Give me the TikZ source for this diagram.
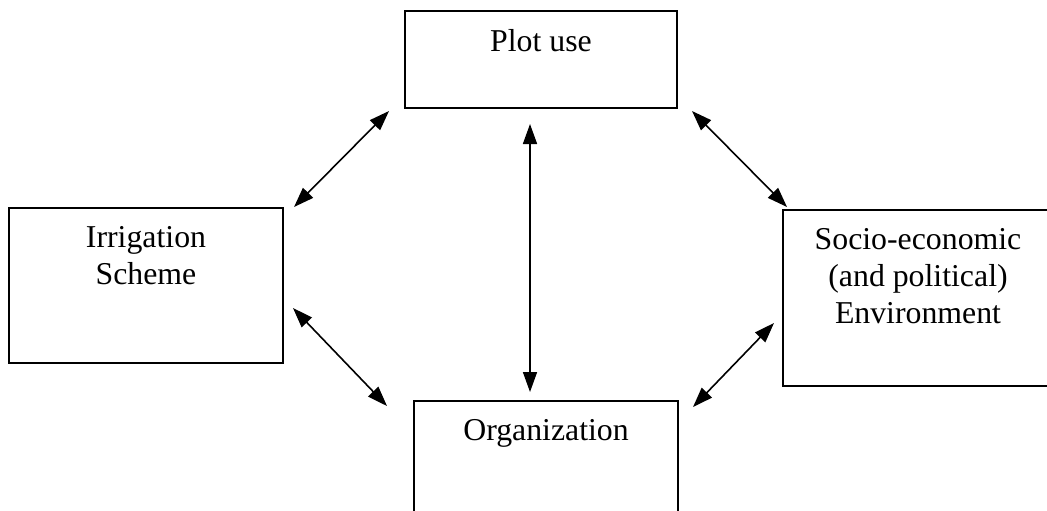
\documentclass[tikz,border=0pt]{standalone}
\usepackage{fontspec}
\setmainfont{Liberation Serif}
\usetikzlibrary{arrows.meta}
\tikzset{
  box/.style={draw,line width=1pt,minimum width=#1,inner sep=0pt},
  boxtext/.style={anchor=north,inner sep=0pt,yshift=-9.7pt,align=center,
    font=\fontsize{15.9}{18.4}\selectfont},
  link/.style={{Triangle[length=10pt,width=7pt]}-{Triangle[length=10pt,width=7pt]},line width=0.8pt}
}

\begin{document}
\begin{tikzpicture}[x=0.5pt,y=-0.5pt]

    % -- Page size (pixels of the original figure) --
    \useasboundingbox (0,0) rectangle (1047,510);
    \clip (0,0) rectangle (1047,510);

    % -- The four boxes, text hanging from the top edge --
    \node[box=136pt,minimum height=48.5pt,label={[boxtext]north:Plot use}] (plot) at (541,59.5) {};
    \node[box=137pt,minimum height=77.5pt,label={[boxtext]north:Irrigation\\Scheme}] (irr) at (146,285.5) {};
    \node[box=135pt,minimum height=88pt,label={[boxtext]north:Socio-economic\\(and political)\\Environment}] (socio) at (918,298) {};
    \node[box=132pt,minimum height=57pt,label={[boxtext]north:Organization}] (org) at (546,458) {};

    % -- Double headed arrows between the boxes --
    \draw[link] ([xshift=5pt]irr.north east) -- ([xshift=-7.5pt,yshift=-1pt]plot.south west);
    \draw[link] ([xshift=4.5pt,yshift=-11.25pt]irr.east) -- ([xshift=-13pt,yshift=-3pt]org.north west);
    \draw[link] ([xshift=7pt,yshift=-1pt]plot.south east) -- ([xshift=2.5pt,yshift=1pt]socio.north west);
    \draw[link] ([xshift=7pt,yshift=-3.5pt]org.north east) -- ([xshift=-4pt,yshift=-12.5pt]socio.west);
    \draw[link] ([xshift=-5.5pt,yshift=-7.5pt]plot.south) -- ([xshift=-8pt,yshift=4pt]org.north);

\end{tikzpicture}
\end{document}
